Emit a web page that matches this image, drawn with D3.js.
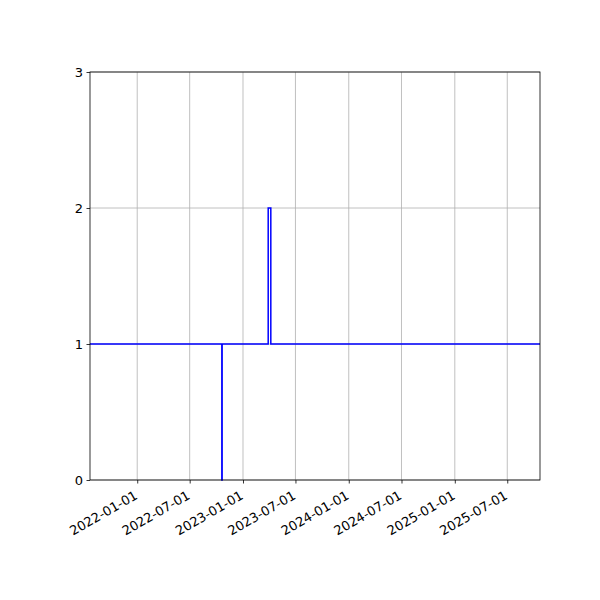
<!DOCTYPE html>
<html>
<head>
<meta charset="utf-8">
<script src="https://cdnjs.cloudflare.com/ajax/libs/d3/7.8.5/d3.min.js"></script>
<style>
  body { margin: 0; background: #fff; }
  text { font-family: "DejaVu Sans", sans-serif; }
</style>
</head>
<body>
<script>
// change points of the step series (value holds until next date)
var stepDates = ["2021-07-22", "2022-10-20", "2022-10-21", "2023-03-29", "2023-04-07", "2025-10-22"];
var stepValues = [1, 0, 1, 2, 1, 1];
var tickDates = ["2022-01-01", "2022-07-01", "2023-01-01", "2023-07-01", "2024-01-01", "2024-07-01", "2025-01-01", "2025-07-01"];
var yTicks = [0, 1, 2, 3];

var parse = d3.timeParse("%Y-%m-%d");
var fmt = d3.timeFormat("%Y-%m-%d");
var data = stepDates.map(function(d, i) { return {date: parse(d), value: stepValues[i]}; });

var w = 600, h = 600;
var plotL = 90, plotR = 540, plotT = 72, plotB = 480;

var svg = d3.select("body").append("svg").attr("width", w).attr("height", h);

var x = d3.scaleTime()
  .domain(d3.extent(data, function(d) { return d.date; }))
  .range([plotL, plotR]);
var y = d3.scaleLinear().domain([0, 3]).range([plotB, plotT]);

// grid
svg.append("g").selectAll("line").data(tickDates.map(parse)).enter().append("line")
  .attr("x1", function(d) { return x(d); }).attr("x2", function(d) { return x(d); })
  .attr("y1", plotT).attr("y2", plotB)
  .attr("stroke", "#b0b0b0").attr("stroke-width", 0.8);
svg.append("g").selectAll("line").data(yTicks).enter().append("line")
  .attr("x1", plotL).attr("x2", plotR)
  .attr("y1", function(d) { return y(d); }).attr("y2", function(d) { return y(d); })
  .attr("stroke", "#b0b0b0").attr("stroke-width", 0.8);

// step line
var line = d3.line()
  .x(function(d) { return x(d.date); })
  .y(function(d) { return y(d.value); })
  .curve(d3.curveStepAfter);
svg.append("path").datum(data)
  .attr("d", line)
  .attr("fill", "none").attr("stroke", "blue").attr("stroke-width", 1.5);

// frame
svg.append("rect").attr("x", plotL).attr("y", plotT)
  .attr("width", plotR - plotL).attr("height", plotB - plotT)
  .attr("fill", "none").attr("stroke", "#000").attr("stroke-width", 0.8);

// x axis
var xAxis = svg.append("g").attr("transform", "translate(0," + plotB + ")")
  .call(d3.axisBottom(x).tickValues(tickDates.map(parse)).tickFormat(fmt).tickSize(3.5).tickPadding(3.5));
xAxis.select(".domain").remove();
xAxis.selectAll("line").attr("stroke", "#000").attr("stroke-width", 0.8);
xAxis.selectAll("text")
  .attr("font-size", "13px").attr("font-family", "DejaVu Sans").attr("fill", "#000")
  .attr("text-anchor", "end")
  .attr("dy", null).attr("y", 0)
  .attr("transform", "translate(-1,15) rotate(-30)")
  .attr("dominant-baseline", "middle");

// y axis
var yAxis = svg.append("g").attr("transform", "translate(" + plotL + ",0)")
  .call(d3.axisLeft(y).tickValues(yTicks).tickFormat(d3.format("d")).tickSize(3.5).tickPadding(3.5));
yAxis.select(".domain").remove();
yAxis.selectAll("line").attr("stroke", "#000").attr("stroke-width", 0.8);
yAxis.selectAll("text").attr("font-size", "13px").attr("font-family", "DejaVu Sans").attr("fill", "#000");
</script>
</body>
</html>
